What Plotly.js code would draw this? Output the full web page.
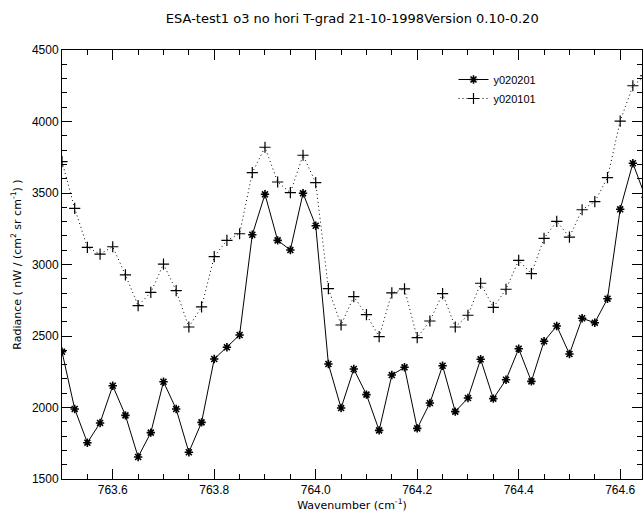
<!DOCTYPE html>
<html>
<head>
<meta charset="utf-8">
<script src="https://cdn.plot.ly/plotly-3.0.1.min.js"></script>
<style>html,body{margin:0;padding:0;background:#fff;}#chart{width:644px;height:514px;}</style>
</head>
<body>
<div id="chart"></div>
<script>
// Wavenumber grid (cm^-1): 763.500 to 764.650 in 0.025 steps
const wavenumber = [763.500,763.525,763.550,763.575,763.600,763.625,763.650,763.675,763.700,763.725,
  763.750,763.775,763.800,763.825,763.850,763.875,763.900,763.925,763.950,763.975,
  764.000,764.025,764.050,764.075,764.100,764.125,764.150,764.175,764.200,764.225,
  764.250,764.275,764.300,764.325,764.350,764.375,764.400,764.425,764.450,764.475,
  764.500,764.525,764.550,764.575,764.600,764.625,764.650];

const y020201 = [2390,1990,1754,1892,2152,1945,1654,1824,2180,1989,
  1687,1896,2339,2421,2507,3208,3491,3169,3101,3498,
  3271,2304,1996,2269,2090,1840,2227,2281,1854,2031,
  2292,1971,2066,2337,2062,2194,2411,2183,2463,2570,
  2374,2624,2593,2761,3386,3708,3470];

const y020101 = [3720,3393,3120,3073,3124,2927,2712,2805,3003,2817,
  2563,2703,3055,3169,3215,3642,3820,3577,3502,3764,
  3572,2831,2577,2775,2649,2495,2801,2829,2488,2605,
  2796,2563,2645,2869,2700,2827,3029,2936,3183,3302,
  3192,3383,3439,3607,4003,4250,4320];

const seriesNames = ['y020201', 'y020101'];
const titleText = 'ESA-test1 o3 no hori T-grad 21-10-1998Version 0.10-0.20';
const xTitle = 'Wavenumber (cm<sup>-1</sup>)';
const yTitle = 'Radiance ( nW / (cm<sup>2</sup> sr cm<sup>-1</sup>) )';

const traces = [
  {
    x: wavenumber, y: y020201, name: seriesNames[0], type: 'scatter', mode: 'lines+markers',
    line: {color: '#000', width: 1},
    marker: {symbol: 'asterisk-open', size: 7, color: '#000', line: {color: '#000', width: 1.6}}
  },
  {
    x: wavenumber, y: y020101, name: seriesNames[1], type: 'scatter', mode: 'lines+markers',
    line: {color: '#000', width: 1, dash: '1px,3px'},
    marker: {symbol: 'cross-thin-open', size: 8, color: '#000', line: {color: '#000', width: 1.2}}
  }
];

const axisCommon = {
  showline: true, linecolor: '#000', linewidth: 1, mirror: 'ticks',
  ticks: 'inside', ticklen: 10, tickwidth: 1, tickcolor: '#000',
  showgrid: false, zeroline: false,
  tickfont: {family: 'Liberation Sans, Arial, sans-serif', size: 12, color: '#000'}
};

const layout = {
  width: 644, height: 514,
  margin: {l: 62, r: 2, t: 50, b: 35},
  paper_bgcolor: '#fff', plot_bgcolor: '#fff',
  title: {text: titleText, x: 0.547, xanchor: 'center', y: 0.965, yanchor: 'middle',
          font: {family: 'DejaVu Sans, sans-serif', size: 13, color: '#000'}},
  xaxis: Object.assign({}, axisCommon, {
    range: [763.5, 764.643], tick0: 763.6, dtick: 0.2, tickformat: '.1f',
    minor: {ticks: 'inside', ticklen: 5, tickcolor: '#000', dtick: 0.05, tick0: 763.5, showgrid: false},
    title: {text: xTitle, standoff: 2, font: {family: 'DejaVu Sans, sans-serif', size: 11, color: '#000'}}
  }),
  yaxis: Object.assign({}, axisCommon, {
    range: [1500, 4500], tick0: 1500, dtick: 500,
    minor: {ticks: 'inside', ticklen: 5, tickcolor: '#000', dtick: 100, showgrid: false},
    title: {text: yTitle, standoff: 8, font: {family: 'DejaVu Sans, sans-serif', size: 11, color: '#000'}}
  }),
  showlegend: true,
  legend: {x: 0.675, y: 0.965, xanchor: 'left', yanchor: 'top', bgcolor: 'rgba(0,0,0,0)',
           font: {family: 'Liberation Sans, Arial, sans-serif', size: 11, color: '#000'},
           itemwidth: 30, tracegroupgap: 0}
};

Plotly.newPlot('chart', traces, layout, {displayModeBar: false, staticPlot: true});
</script>
</body>
</html>
